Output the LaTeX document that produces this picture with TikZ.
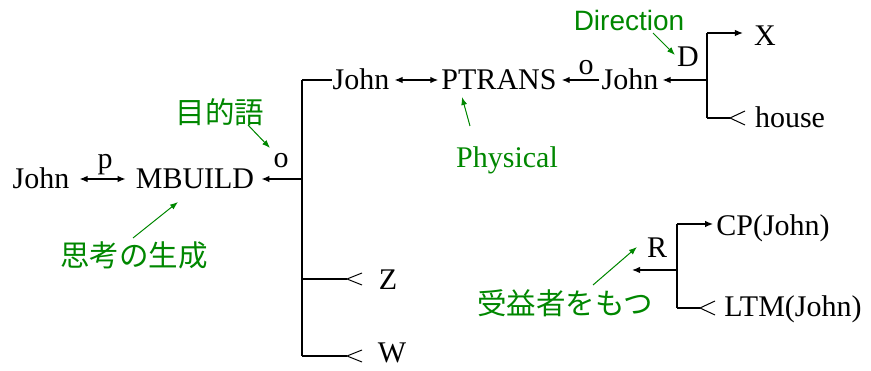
\documentclass[tikz,border=0pt]{standalone}
\usepackage{fontspec}
\setmainfont{Liberation Serif}
\newfontfamily\jpfont{Noto Sans CJK JP}
\newfontfamily\annsans{Liberation Sans}
\newfontfamily\annserif{Liberation Serif}
\usetikzlibrary{arrows.meta}
\definecolor{ann}{RGB}{0,135,0}
\begin{document}
\begin{tikzpicture}[x=1pt,y=-1pt,
  word/.style={inner sep=0pt,text height=20pt,text depth=0pt,font=\annserif\fontsize{30}{30}\selectfont},
  lab/.style={inner sep=0pt,anchor=base,font=\annserif\fontsize{30}{30}\selectfont},
  jp/.style={inner sep=0pt,text=ann,font=\jpfont\fontsize{29.5}{29.5}\selectfont},
  ensf/.style={inner sep=0pt,text=ann,font=\annsans\fontsize{28}{28}\selectfont},
  enrm/.style={inner sep=0pt,text=ann,text height=20pt,text depth=0pt,font=\annserif\fontsize{30}{30}\selectfont},
  conn/.style={line width=1.3pt},
  arr/.style={conn,-{Latex[length=8pt,width=6.5pt]}},
  darr/.style={conn,{Latex[length=8pt,width=6.5pt]}-{Latex[length=8pt,width=6.5pt]}},
  garr/.style={draw=ann,line width=1pt,-{Latex[length=8pt,width=6pt]},fill=ann},
  chev/.style={line width=1pt}
]
\useasboundingbox (0,0) rectangle (871,371);

% main words
\node[word] (johnA) at (41,179) {John};
\node[word] (mbuild) at (195,179) {MBUILD};
\node[word] (johnB) at (361,80) {John};
\node[word] (ptrans) at (499,80) {PTRANS};
\node[word] (johnC) at (630,80) {John};
\node[word] (D) at (688,57) {D};
\node[word] (X) at (765,36) {X};
\node[word] (house) at (790,118) {house};
\node[word] (Z) at (388,280) {Z};
\node[word] (W) at (392,353) {W};
\node[word] (R) at (657,248) {R};
\node[word] (cp) at (773,226) {CP(John)};
\node[word] (ltm) at (793,307) {LTM(John)};

% small labels
\node[lab] (p) at (105,169) {p};
\node[lab] (o1) at (281,168) {o};
\node[lab] (o2) at (586,75) {o};

% annotations
\node[ensf] (dir) at (629,20) {Direction};
\node[jp] (mokuteki) at (220,112) {目的語};
\node[jp] (shiko) at (134,255) {思考の生成};
\node[enrm] (phys) at (507,158) {Physical};
\node[jp] (jueki) at (565,303) {受益者をもつ};

% branch coordinates
\coordinate (b1) at (302,179);
\coordinate (b1t) at (302,80);
\coordinate (b1z) at (302,279);
\coordinate (b1w) at (302,356);
\coordinate (b2) at (707,80);
\coordinate (b2t) at (707,33);
\coordinate (b2b) at (707,118);
\coordinate (b3) at (677,270);
\coordinate (b3t) at (677,224);
\coordinate (b3b) at (677,308);
\coordinate (rfree) at (632,270);
\coordinate (cz) at (347,279);
\coordinate (cw) at (347,356);
\coordinate (ch) at (730,118);
\coordinate (cl) at (700,308);

% left part
\draw[darr,shorten <=10pt,shorten >=10pt] (johnA.east) -- (mbuild.west);
\draw[arr,shorten >=7pt] (b1) -- (mbuild.east);
\draw[conn] (b1t) -- (b1w);
\draw[conn] (b1t) -- (johnB.west);
\draw[conn] (b1z) -- (cz);
\draw[chev] ([shift={(15,-6)}]cz) -- (cz) -- ([shift={(15,6)}]cz);
\draw[conn] (b1w) -- (cw);
\draw[chev] ([shift={(15,-6)}]cw) -- (cw) -- ([shift={(15,6)}]cw);

% top part
\draw[darr,shorten <=5pt,shorten >=3pt] (johnB.east) -- (ptrans.west);
\draw[arr,shorten <=2pt,shorten >=5pt] (johnC.west) -- (ptrans.east);
\draw[arr,shorten >=4pt] (b2) -- (johnC.east);
\draw[conn] (b2t) -- (b2b);
\draw[arr,shorten >=11pt] (b2t) -- (b2t -| X.west);
\draw[conn] (b2b) -- (ch);
\draw[chev] ([shift={(15,-7)}]ch) -- (ch) -- ([shift={(15,7)}]ch);

% R part
\draw[conn] (b3t) -- (b3b);
\draw[arr] (b3) -- (rfree);
\draw[arr,shorten >=3pt] (b3t) -- (b3t -| cp.west);
\draw[conn] (b3b) -- (cl);
\draw[chev] ([shift={(15,-7)}]cl) -- (cl) -- ([shift={(15,7)}]cl);

% annotation arrows
\coordinate (gm1) at (248,125); \coordinate (gm2) at (270,148);
\coordinate (gs1) at (133,238); \coordinate (gs2) at (178,202);
\coordinate (gp1) at (470,126); \coordinate (gp2) at (462,97);
\coordinate (gd1) at (653,33);  \coordinate (gd2) at (675,55);
\coordinate (gj1) at (593,285); \coordinate (gj2) at (637,247);
\draw[garr] (gm1) -- (gm2);
\draw[garr] (gs1) -- (gs2);
\draw[garr] (gp1) -- (gp2);
\draw[garr] (gd1) -- (gd2);
\draw[garr] (gj1) -- (gj2);
\end{tikzpicture}
\end{document}
